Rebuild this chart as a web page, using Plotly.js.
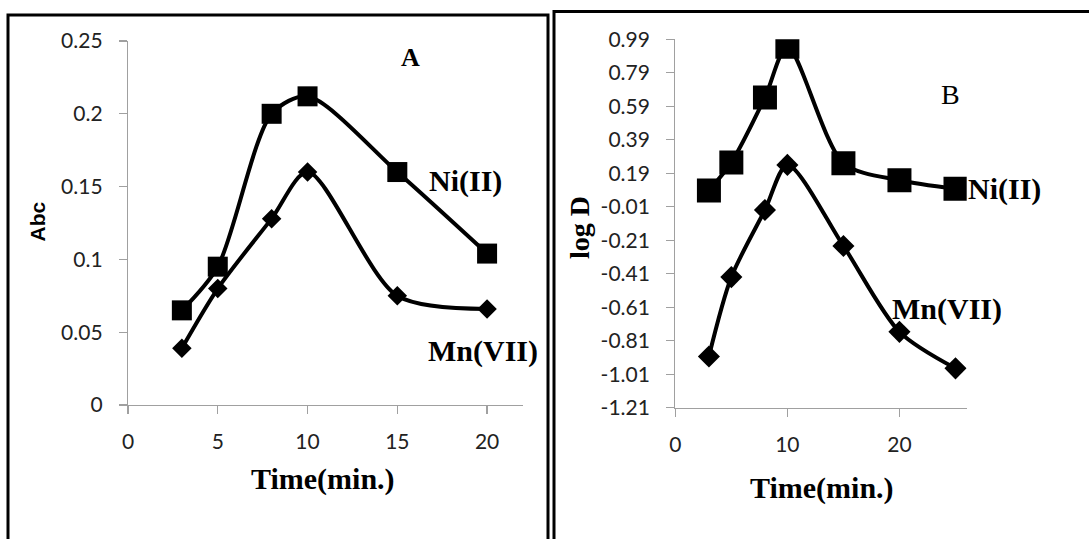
<!DOCTYPE html>
<html><head><meta charset="utf-8">
<script src="https://cdn.plot.ly/plotly-3.0.1.min.js"></script>
<style>html,body{margin:0;padding:0;background:#fff;}</style>
</head><body>
<div id="chart" style="width:1089px;height:539px;"></div>
<script>
// Panel A: absorbance vs time
const timeA = [3, 5, 8, 10, 15, 20];
const niA = [0.065, 0.095, 0.200, 0.212, 0.160, 0.104];
const mnA = [0.039, 0.080, 0.128, 0.160, 0.075, 0.066];
// Panel B: log D vs time
const timeB = [3, 5, 8, 10, 15, 20, 25];
const niB = [0.087, 0.255, 0.643, 0.945, 0.25, 0.148, 0.097];
const mnB = [-0.904, -0.43, -0.029, 0.24, -0.244, -0.757, -0.975];
const yTicksA = [0, 0.05, 0.1, 0.15, 0.2, 0.25];
const yTickTextA = ['0', '0.05', '0.1', '0.15', '0.2', '0.25'];
const yTicksB = [-1.21, -1.01, -0.81, -0.61, -0.41, -0.21, -0.01, 0.19, 0.39, 0.59, 0.79, 0.99];
const xTicksA = [0, 5, 10, 15, 20];
const xTicksB = [0, 10, 20];

const W = 1089, H = 539;
const px = x => x / W;
const py = y => 1 - y / H;

const lineStyle = {color: '#000', width: 4, shape: 'spline', smoothing: 0.8};
const traces = [
  {x: timeA, y: niA, xaxis: 'x', yaxis: 'y', mode: 'lines+markers', line: lineStyle,
   marker: {symbol: 'square', size: 20, color: '#000'}, name: 'Ni(II)'},
  {x: timeA, y: mnA, xaxis: 'x', yaxis: 'y', mode: 'lines+markers', line: lineStyle,
   marker: {symbol: 'diamond', size: 15, color: '#000'}, name: 'Mn(VII)'},
  {x: timeB, y: niB, xaxis: 'x2', yaxis: 'y2', mode: 'lines+markers', line: lineStyle,
   marker: {symbol: 'square', size: 24, color: '#000'}, name: 'Ni(II)'},
  {x: timeB, y: mnB, xaxis: 'x2', yaxis: 'y2', mode: 'lines+markers', line: lineStyle,
   marker: {symbol: 'diamond', size: 17, color: '#000'}, name: 'Mn(VII)'}
];

const tickFont = {family: 'Lato, "Open Sans", sans-serif', size: 21, color: '#222'};
const axCommon = {showgrid: false, zeroline: false, showline: true, linecolor: '#a0a0a0', linewidth: 1.2,
  ticks: 'outside', ticklen: 8, tickcolor: '#a0a0a0', tickwidth: 1.2, tickfont: tickFont, fixedrange: true};

const serifBold = {family: '"Liberation Serif", "Times New Roman", serif', size: 30, color: '#000'};

function ann(text, x, y, font, extra) {
  return Object.assign({text: text, xref: 'paper', yref: 'paper', x: px(x), y: py(y), showarrow: false,
    xanchor: 'center', yanchor: 'middle', font: font}, extra || {});
}

const layout = {
  width: W, height: H,
  margin: {l: 0, r: 0, t: 0, b: 0},
  paper_bgcolor: '#fff', plot_bgcolor: 'rgba(0,0,0,0)',
  showlegend: false,
  xaxis: Object.assign({}, axCommon, {domain: [px(128), px(523)], range: [0, 22], anchor: 'y',
    tickvals: xTicksA, ticktext: xTicksA.map(String), ticklabelstandoff: 10}),
  yaxis: Object.assign({}, axCommon, {domain: [py(405), py(41)], range: [0, 0.25], anchor: 'x',
    tickvals: yTicksA, ticktext: yTickTextA, ticklabelstandoff: 12}),
  xaxis2: Object.assign({}, axCommon, {domain: [px(675.3), px(966.7)], range: [0, 26], anchor: 'y2',
    tickvals: xTicksB, ticktext: xTicksB.map(String), ticklabelstandoff: 10}),
  yaxis2: Object.assign({}, axCommon, {domain: [py(407.7), py(39.3)], range: [-1.21, 0.99], anchor: 'x2',
    tickvals: yTicksB, ticktext: yTicksB.map(v => v.toFixed(2)), ticklabelstandoff: 12}),
  shapes: [
    {type: 'rect', xref: 'paper', yref: 'paper', x0: px(8), x1: px(548), y0: -0.1, y1: py(15),
     line: {color: '#000', width: 3}},
    {type: 'rect', xref: 'paper', yref: 'paper', x0: px(554), x1: px(1100), y0: -0.1, y1: py(11.5),
     line: {color: '#000', width: 3}}
  ],
  annotations: [
    ann('<b>Abc</b>', 36.5, 222, {family: '"Liberation Sans", Arial, sans-serif', size: 21, color: '#000'}, {textangle: -90}),
    ann('<b>Time(min.)</b>', 323, 479, serifBold),
    ann('<b>A</b>', 410, 58, {family: '"Liberation Serif", serif', size: 26, color: '#000'}),
    ann('<b>Ni(II)</b>', 465, 181, serifBold),
    ann('<b>Mn(VII)</b>', 483, 351, serifBold),
    ann('<b>log D</b>', 579, 228, {family: '"Liberation Serif", serif', size: 28, color: '#000'}, {textangle: -90}),
    ann('<b>Time(min.)</b>', 822, 488, serifBold),
    ann('B', 950, 95, {family: '"Liberation Serif", serif', size: 28, color: '#000'}),
    ann('<b>Ni(II)</b>', 1004, 189, serifBold),
    ann('<b>Mn(VII)</b>', 947, 309, serifBold)
  ]
};

Plotly.newPlot('chart', traces, layout, {displayModeBar: false, staticPlot: true});
</script>
</body></html>
